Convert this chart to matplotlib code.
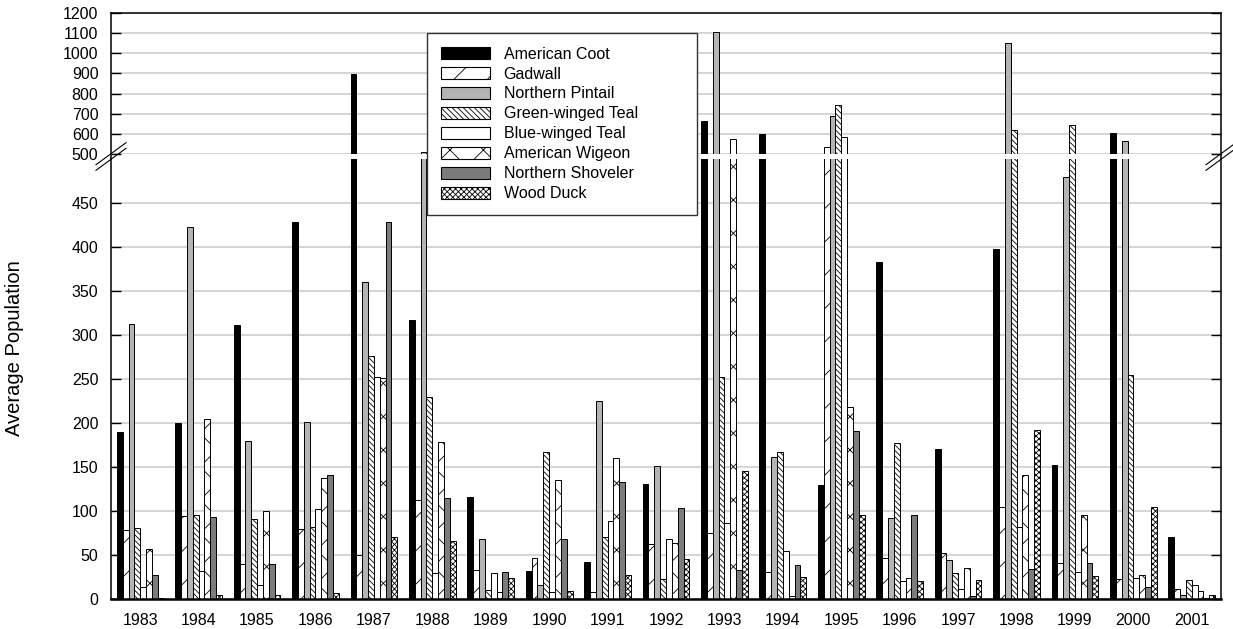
import matplotlib
matplotlib.use('Agg')
import matplotlib.pyplot as plt
import numpy as np
from matplotlib.lines import Line2D
from matplotlib.patches import Patch

plt.rcParams['font.family'] = ['Liberation Sans', 'DejaVu Sans']
plt.rcParams['hatch.linewidth'] = 0.6

years = ['1983', '1984', '1985', '1986', '1987', '1988', '1989', '1990', '1991', '1992',
         '1993', '1994', '1995', '1996', '1997', '1998', '1999', '2000', '2001']

american_coot = [190, 200, 311, 428, 895, 317, 116, 32, 42, 131, 665, 600, 130, 383, 171, 398, 152, 604, 70]
gadwall = [78, 94, 40, 80, 50, 112, 33, 47, 8, 62, 75, 31, 536, 47, 52, 105, 41, 23, 11]
northern_pintail = [313, 423, 179, 201, 360, 508, 68, 16, 225, 151, 1108, 161, 690, 92, 44, 1051, 480, 566, 5]
green_winged_teal = [81, 96, 91, 82, 276, 229, 10, 167, 70, 23, 252, 167, 743, 177, 30, 620, 644, 255, 22]
blue_winged_teal = [14, 32, 16, 102, 252, 29, 29, 8, 89, 68, 86, 55, 582, 20, 11, 82, 31, 24, 16]
american_wigeon = [57, 205, 100, 137, 251, 178, 8, 135, 160, 64, 574, 3, 218, 24, 35, 141, 96, 27, 9]
northern_shoveler = [27, 93, 40, 141, 428, 115, 31, 68, 133, 103, 33, 39, 191, 95, 3, 34, 41, 14, 1]
wood_duck = [1, 4, 5, 7, 70, 66, 24, 9, 27, 46, 146, 25, 95, 20, 22, 192, 26, 105, 4]

species = ['American Coot', 'Gadwall', 'Northern Pintail', 'Green-winged Teal',
           'Blue-winged Teal', 'American Wigeon', 'Northern Shoveler', 'Wood Duck']
series = [american_coot, gadwall, northern_pintail, green_winged_teal,
          blue_winged_teal, american_wigeon, northern_shoveler, wood_duck]
# (facecolor, hatch) for each species
styles = [('black', None), ('white', '/'), ('#b4b4b4', None), ('white', '\\' * 6),
          ('white', None), ('white', 'x'), ('#7c7c7c', None), ('white', 'x' * 6)]

W, H = 1233, 629


def px(x, y):
    # pixel position (from top-left) -> figure fraction
    return x / W, 1 - y / H


def style_axes(ax):
    ax.set_facecolor('white')
    ax.set_axisbelow(True)
    ax.yaxis.grid(True, color='#d2d2d2', lw=1.3)
    ax.xaxis.grid(False)
    ax.tick_params(axis='y', direction='in', left=True, right=True, length=7,
                   width=1, pad=9, labelsize=11.5, colors='black')
    ax.tick_params(axis='x', length=0, pad=10, labelsize=11.5)
    for s in ax.spines.values():
        s.set_linewidth(1.1)
        s.set_color('black')


def draw_bars(ax, x, width):
    for j, (vals, (fc, hatch)) in enumerate(zip(series, styles)):
        ax.bar(x + (j - 3.5) * width, vals, width, color=fc, edgecolor='black',
               linewidth=0.7, hatch=hatch)


def main():
    fig = plt.figure(figsize=(W / 100, H / 100), dpi=100)
    left, right = px(111, 0)[0], px(1221, 0)[0]
    low_b, low_t = px(0, 599)[1], px(0, 159)[1]
    up_b, up_t = px(0, 154)[1], px(0, 13)[1]

    ax_lo = fig.add_axes([left, low_b, right - left, low_t - low_b])
    ax_hi = fig.add_axes([left, up_b, right - left, up_t - up_b], sharex=ax_lo)

    x = np.arange(len(years))
    width = 0.1
    draw_bars(ax_lo, x, width)
    draw_bars(ax_hi, x, width)

    ax_lo.set_ylim(0, 500)
    ax_lo.set_yticks(np.arange(0, 451, 50))
    ax_hi.set_ylim(500, 1200)
    ax_hi.set_yticks(np.arange(500, 1201, 100))
    ax_lo.set_xlim(-0.5, len(years) - 0.5)
    ax_lo.set_xticks(x)
    ax_lo.set_xticklabels(years)

    style_axes(ax_lo)
    style_axes(ax_hi)
    ax_lo.spines['top'].set_visible(False)
    ax_lo.spines['bottom'].set_linewidth(1.8)
    ax_hi.spines['bottom'].set_visible(False)
    ax_hi.tick_params(axis='x', labelbottom=False)

    # spine continues through the gap, plus the // break marks
    for xs in (left, right):
        fig.add_artist(Line2D([xs, xs], [low_t, up_b], color='black', lw=1.1,
                              transform=fig.transFigure))
        ymid = (low_t + up_b) / 2
        dx, dy = 15 / W, 11 / H
        for off in (2.8 / H, -2.8 / H):
            fig.add_artist(Line2D([xs - dx, xs + dx], [ymid + off - dy, ymid + off + dy],
                                  color='black', lw=0.8, transform=fig.transFigure))

    fig.text(px(15, 0)[0], px(0, 348)[1], 'Average Population', rotation=90,
             ha='center', va='center', fontsize=14.5)

    handles = [Patch(facecolor=fc, edgecolor='black', hatch=h, linewidth=0.8)
               for fc, h in styles]
    lx0, ly0 = px(427, 213)
    lx1, ly1 = px(697, 33)
    leg = fig.legend(handles, species, loc='upper left',
                     bbox_to_anchor=(lx0, ly0, lx1 - lx0, ly1 - ly0), mode='expand',
                     fontsize=11.5, handlelength=3.1, handleheight=0.75,
                     handletextpad=0.85, labelspacing=0.31, borderpad=0.85,
                     borderaxespad=0, fancybox=False, framealpha=1)
    leg.get_frame().set_edgecolor('#333333')
    leg.get_frame().set_linewidth(1.0)

    fig.savefig('out.png', dpi=100)


if __name__ == '__main__':
    main()
